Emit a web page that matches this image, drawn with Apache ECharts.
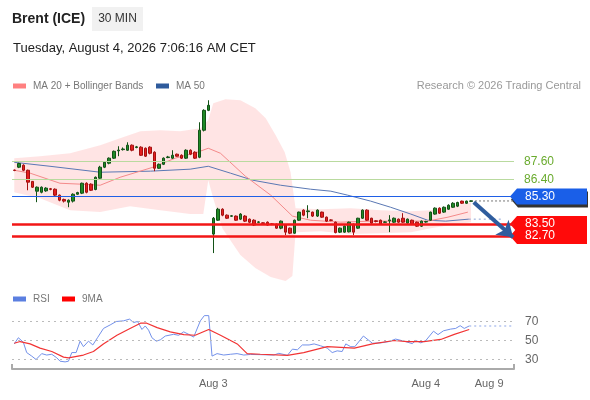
<!DOCTYPE html>
<html lang="en">
<head>
<meta charset="utf-8">
<title>Brent (ICE) 30 MIN</title>
<script src="https://cdn.jsdelivr.net/npm/echarts@6/dist/echarts.min.js"></script>
<style>
    html, body { margin: 0; padding: 0; background: #fff; }
    #main { width: 590px; height: 400px; }
</style>
</head>
<body>
<div id="main"></div>
<script>
// 30 min bars, [open, close, low, high]
var candles = [
    [87.02, 87.00, 86.95, 87.05], [87.21, 87.45, 87.15, 87.50], [87.34, 87.01, 86.95, 87.40],
    [87.01, 86.23, 85.70, 87.05], [86.28, 85.90, 85.85, 86.30], [85.64, 85.90, 84.92, 85.95],
    [85.57, 85.90, 85.50, 85.95], [85.66, 85.84, 85.60, 85.90], [85.80, 85.76, 85.70, 85.85],
    [85.77, 85.38, 85.30, 85.82], [85.38, 85.05, 84.98, 85.42], [85.10, 84.99, 84.90, 85.15],
    [84.92, 85.05, 84.59, 85.10], [84.99, 85.44, 84.90, 85.50], [85.44, 85.55, 85.40, 85.60],
    [85.51, 86.16, 85.45, 86.20], [86.16, 85.57, 85.50, 86.22], [86.10, 85.70, 85.65, 86.15],
    [85.75, 86.55, 85.70, 86.60], [86.49, 87.21, 86.45, 87.30], [87.21, 87.53, 87.15, 87.60],
    [87.47, 87.80, 87.40, 87.85], [87.80, 88.25, 87.75, 88.30], [88.28, 88.33, 87.93, 88.58],
    [88.36, 88.40, 88.30, 88.50], [88.32, 88.65, 88.28, 88.84], [88.65, 88.32, 88.25, 88.70],
    [88.50, 88.54, 88.45, 88.60], [88.52, 87.99, 87.95, 88.58], [88.45, 87.93, 87.88, 88.50],
    [88.52, 88.12, 88.05, 88.58], [88.19, 87.14, 86.95, 88.25], [87.14, 87.40, 87.10, 87.45],
    [87.40, 87.80, 87.35, 87.85], [87.84, 87.88, 87.80, 87.95], [87.80, 87.99, 87.75, 88.32],
    [88.06, 87.93, 87.90, 88.10], [87.99, 87.80, 87.75, 88.05], [87.80, 88.32, 87.75, 88.38],
    [88.32, 88.06, 88.00, 88.38], [88.19, 87.80, 87.75, 88.25], [87.86, 89.63, 87.80, 90.15],
    [89.63, 90.93, 89.55, 91.00], [90.93, 91.26, 90.88, 91.59],
    [82.83, 83.87, 81.59, 83.95], [83.74, 84.46, 83.70, 84.55], [84.46, 84.07, 84.00, 84.52],
    [84.07, 83.87, 83.82, 84.12], [84.00, 84.03, 83.95, 84.08], [84.01, 83.74, 83.70, 84.05],
    [83.81, 84.14, 83.75, 84.20], [84.01, 83.68, 83.62, 84.07], [83.81, 83.61, 83.55, 83.85],
    [83.74, 83.42, 83.36, 83.80], [83.60, 83.63, 83.55, 83.68], [83.57, 83.53, 83.48, 83.60],
    [83.61, 83.42, 83.38, 83.66], [83.50, 83.47, 83.42, 83.55], [83.48, 83.22, 83.18, 83.52],
    [83.22, 83.68, 83.15, 83.72], [83.42, 82.96, 82.76, 83.46], [83.22, 82.89, 82.83, 83.26],
    [82.89, 83.74, 82.85, 83.78], [83.74, 84.27, 83.70, 84.30], [84.40, 84.07, 84.00, 84.45],
    [84.30, 84.35, 83.87, 84.72], [84.27, 84.01, 83.95, 84.30], [84.01, 84.40, 83.95, 84.45],
    [84.27, 83.94, 83.90, 84.30], [83.94, 83.68, 83.62, 83.98], [83.76, 83.73, 83.68, 83.80],
    [83.61, 82.93, 82.88, 83.65], [82.96, 83.22, 82.90, 83.26], [82.96, 83.35, 82.92, 83.40],
    [82.98, 83.61, 82.94, 83.65], [83.48, 82.96, 82.76, 83.52], [83.22, 83.87, 83.18, 83.90],
    [83.87, 84.40, 83.82, 84.45], [84.40, 83.74, 83.70, 84.45], [83.87, 83.55, 83.50, 83.90],
    [83.70, 83.66, 83.60, 83.74], [83.74, 83.48, 83.44, 83.78], [83.60, 83.63, 83.56, 83.68],
    [83.70, 83.76, 82.96, 84.07], [83.61, 83.87, 83.56, 83.92], [83.81, 83.61, 83.56, 83.85],
    [83.87, 83.61, 83.56, 84.20], [83.55, 83.81, 83.50, 83.85], [83.74, 83.48, 83.44, 83.78],
    [83.61, 83.35, 83.30, 83.65], [83.35, 83.68, 83.30, 83.72], [83.62, 83.65, 83.58, 83.70],
    [83.74, 84.27, 83.70, 84.30], [84.14, 84.53, 84.10, 84.58], [84.53, 84.20, 84.15, 84.58],
    [84.27, 84.59, 84.22, 84.64], [84.46, 84.72, 84.42, 84.78], [84.59, 84.85, 84.55, 84.92],
    [84.66, 84.90, 84.60, 84.95], [84.99, 84.85, 84.80, 85.02], [84.85, 84.99, 84.80, 85.02],
    [84.98, 85.00, 84.95, 85.04]
];
var slotCount = 111;   // bars + empty slots to the right
var tickLabels = ['Aug 3', 'Aug 4', 'Aug 9'];
var tickSlots = [44, 91, 105];

// indicator lines, [bar position, value]
var ma20 = [[0, 87.01], [3.5, 86.82], [10.1, 86.16], [14.6, 86.10], [19, 86.03], [23.4, 86.55],
    [30.7, 87.21], [35.6, 87.80], [40.5, 88.19], [42.9, 88.45], [45.6, 88.12], [51.1, 86.62],
    [56.7, 85.38], [61.5, 84.01], [65.5, 83.74], [72.2, 83.61], [78.8, 83.68], [85.5, 83.68],
    [91.4, 83.68], [95.9, 83.94], [100.3, 84.27]];
var bandUpper = [[0, 87.80], [5.7, 87.93], [12.35, 88.12], [19, 88.65], [23.4, 89.10], [27.9, 89.56],
    [32.3, 89.63], [36.7, 89.56], [41.2, 89.76], [42.9, 90.28], [44, 91.39], [46.7, 91.65], [50, 91.59],
    [53.3, 91.06], [55.6, 90.41], [57.8, 89.30], [59.8, 88.19], [61.1, 86.88], [62.2, 84.53],
    [67.7, 84.46], [74.4, 84.53], [81, 84.40], [87.7, 84.33], [92.1, 84.40], [96.5, 84.66], [101, 84.92]];
var bandLower = [[0, 85.57], [5.7, 85.18], [12.35, 84.40], [19, 84.27], [25.6, 84.66], [32.3, 84.40],
    [38.9, 84.14], [41.8, 84.14], [42.9, 86.36], [44, 85.18], [46, 83.22], [50, 81.46], [53.3, 80.61],
    [56.7, 80.02], [60, 79.76], [61.5, 80.09], [62.2, 82.96], [67.7, 83.02], [74.4, 82.83], [81, 82.89],
    [87.7, 82.96], [92.1, 83.22], [96.5, 83.42], [101, 83.61]];
var ma50 = [[0, 87.53], [7.9, 87.27], [19, 86.88], [30.1, 86.95], [38.9, 87.08], [42.9, 87.27],
    [47.8, 86.82], [52.7, 86.36], [58.9, 86.03], [65.5, 85.77], [70, 85.64], [73.7, 85.38],
    [78.8, 84.99], [83.2, 84.59], [87.7, 84.14], [91.4, 83.74], [95.4, 83.68], [100.5, 83.81]];
var ma50Ahead = [[100.5, 83.81], [107.6, 83.81]];
var forecastArrow = [[101.6, 84.92], [110.3, 82.63]];

var resistance = [87.60, 86.40];
var pivot = 85.30;
var support = [83.50, 82.70];

var rsi = [[0, 46.4], [0.9, 52.9], [2.0, 48.2], [2.75, 37.3], [3.86, 33.6], [4.82, 30.0], [6.07, 36.2],
    [7.18, 34.7], [8.29, 35.5], [9.4, 31.8], [10.13, 28.2], [11.24, 27.5], [11.98, 28.2], [12.72, 37.3],
    [13.68, 37.3], [14.56, 49.3], [15.3, 43.5], [16.41, 49.3], [17.37, 45.3], [18.4, 52.9], [19.73, 62.7],
    [21.21, 66.4], [22.54, 70.0], [24.16, 70.7], [25.49, 72.5], [26.38, 68.9], [27.27, 70.0], [28.23, 61.6],
    [28.96, 65.3], [29.7, 60.9], [30.44, 52.9], [31.4, 49.3], [32.29, 50.7], [33.39, 54.7], [35.24, 56.5],
    [36.35, 55.5], [37.46, 59.1], [38.56, 56.5], [39.67, 53.6], [41.15, 70.7], [42.03, 76.2], [43.0, 76.2],
    [43.73, 33.6], [44.84, 36.2], [46.32, 34.7], [47.79, 35.5], [49.27, 36.2], [50.75, 34.7], [52.22, 35.3],
    [54.44, 35.1], [57.4, 34.7], [58.5, 36.5], [60.4, 34.4], [61.5, 40.9], [62.6, 40.2], [63.7, 45.3],
    [65.2, 45.3], [66.3, 46.4], [67.7, 44.5], [69.2, 42.0], [70.3, 37.3], [71.4, 39.1], [72.5, 38.4],
    [73.3, 46.4], [74.4, 43.5], [75.3, 43.5], [77.2, 54.7], [79.2, 47.1], [81.0, 47.5], [82.9, 48.9],
    [84.3, 51.5], [86.2, 49.3], [88.0, 46.7], [88.8, 50.0], [89.9, 47.5], [91.0, 50.0], [92.7, 59.8],
    [93.7, 56.2], [94.9, 60.2], [96.5, 62.0], [97.6, 62.7], [98.6, 65.6], [99.5, 62.7], [100.6, 65.3]];
var rsiMa9 = [[0, 47.1], [1.3, 48.9], [3.5, 46.4], [5.7, 42.0], [8.3, 38.4], [10.9, 32.5], [12, 31.8],
    [15.3, 34.7], [17.5, 38.4], [19.7, 46.4], [22.7, 55.5], [25.6, 62.7], [27.9, 68.2], [29.3, 68.2],
    [31.6, 63.5], [34.5, 59.1], [37.5, 56.2], [40.0, 55.5], [43.0, 61.6], [45.6, 55.5], [49.3, 46.4],
    [51.5, 36.2], [54.4, 35.5], [60.4, 34.4], [64.0, 37.3], [69.2, 43.5], [75.2, 42.0], [79.2, 46.4],
    [84.0, 50.0], [86.9, 48.9], [90.6, 48.9], [94.3, 51.1], [97.3, 56.5], [100.6, 61.6]];
var rsiLevels = [70, 50, 30];

var FONT = '"Liberation Sans", Arial, sans-serif';
var slots = [];
for (var i = 0; i < slotCount; i++) slots.push(i);
var lastBar = candles.length - 1;
var lastClose = candles[lastBar][1];
var lastRsi = rsi[rsi.length - 1];

var myChart = echarts.init(document.getElementById('main'));

function legendItem(x, y, color, label) {
    return [
        { type: 'rect', shape: { x: x, y: y - 2.5, width: 13, height: 5 }, style: { fill: color } },
        { type: 'text', x: x + 20, y: y, style: { text: label, fill: '#777', font: '10px ' + FONT, verticalAlign: 'middle' } }
    ];
}

var headerGraphic = [
    { type: 'text', x: 12, y: 19, style: { text: 'Brent (ICE)', fill: '#222', font: 'bold 14px ' + FONT, verticalAlign: 'middle' } },
    { type: 'rect', shape: { x: 92, y: 7, width: 51, height: 24 }, style: { fill: '#f1f1f1' } },
    { type: 'text', x: 117.5, y: 19, style: { text: '30 MIN', fill: '#333', font: '12px ' + FONT, align: 'center', verticalAlign: 'middle' } },
    { type: 'text', x: 13, y: 48, style: { text: 'Tuesday, August 4, 2026 7:06:16 AM CET', fill: '#222', font: '13px ' + FONT, verticalAlign: 'middle' } },
    { type: 'text', x: 581, y: 86, style: { text: 'Research \u00a9 2026 Trading Central', fill: '#999', font: '11px ' + FONT, align: 'right', verticalAlign: 'middle' } }
].concat(
    legendItem(13, 86, '#ff8080', 'MA 20 + Bollinger Bands'),
    legendItem(156, 86, '#2f5b9c', 'MA 50'),
    legendItem(13, 299, '#5b7fe0', 'RSI'),
    legendItem(62, 299, '#ff0000', '9MA')
);

var option = {
    animation: false,
    backgroundColor: '#fff',
    grid: [
        { left: 12, right: 76, top: 94, height: 191 },
        { left: 12, right: 76, top: 312, height: 57 }
    ],
    xAxis: [
        { type: 'category', gridIndex: 0, data: slots, boundaryGap: true, show: false },
        { type: 'value', gridIndex: 0, min: -0.5, max: slotCount - 0.5, show: false },
        {
            type: 'value', gridIndex: 1, min: -0.5, max: slotCount - 0.5,
            axisLine: { show: true, lineStyle: { color: '#aaa', width: 2 } },
            axisTick: { show: true, inside: true, length: 5, customValues: [-0.5, slotCount - 0.5], lineStyle: { color: '#aaa', width: 2 } },
            axisLabel: {
                customValues: tickSlots, color: '#666', fontSize: 11, fontFamily: FONT, margin: 9,
                formatter: function (v) { return tickLabels[tickSlots.indexOf(Math.round(v))]; }
            },
            splitLine: { show: false }
        }
    ],
    yAxis: [
        { type: 'value', gridIndex: 0, min: 79.5, max: 92, show: false },
        { type: 'value', gridIndex: 1, min: 20, max: 80, show: false }
    ],
    series: [
        {
            // bollinger band fill
            type: 'custom', xAxisIndex: 1, yAxisIndex: 0, clip: false, silent: true,
            data: [[0, 0]], z: 1,
            renderItem: function (params, api) {
                var pts = bandUpper.map(function (p) { return api.coord(p); })
                    .concat(bandLower.slice().reverse().map(function (p) { return api.coord(p); }));
                return { type: 'polygon', shape: { points: pts }, style: { fill: 'rgba(255,130,130,0.22)' } };
            }
        },
        {
            type: 'line', xAxisIndex: 1, yAxisIndex: 0, data: ma50, symbol: 'none', z: 2,
            lineStyle: { color: '#5a78b4', width: 1 }
        },
        {
            type: 'line', xAxisIndex: 1, yAxisIndex: 0, data: ma50Ahead, symbol: 'none', z: 2,
            lineStyle: { color: '#8ea4d4', width: 1, type: [2, 3] }
        },
        {
            type: 'line', xAxisIndex: 1, yAxisIndex: 0, data: ma20, symbol: 'none', z: 2,
            lineStyle: { color: '#f48a8a', width: 1 }
        },
        {
            type: 'line', xAxisIndex: 1, yAxisIndex: 0, symbol: 'none', z: 2,
            data: [[lastBar, lastClose], [slotCount - 0.5, lastClose]],
            lineStyle: { color: '#777', width: 1, type: [2, 2] }
        },
        {
            type: 'candlestick', xAxisIndex: 0, yAxisIndex: 0, data: candles, barWidth: 3, z: 3,
            itemStyle: { color: '#1f8a26', color0: '#e41e1e', borderColor: '#135217', borderColor0: '#a31010', borderWidth: 1 },
            markLine: {
                silent: true, symbol: ['none', 'none'], animation: false,
                data: [
                    { yAxis: resistance[0], lineStyle: { color: '#b9da9f', width: 1, type: 'solid' },
                      label: { show: true, position: 'end', distance: 10, color: '#6aab2e', fontSize: 12, fontFamily: FONT, formatter: resistance[0].toFixed(2) } },
                    { yAxis: resistance[1], lineStyle: { color: '#b9da9f', width: 1, type: 'solid' },
                      label: { show: true, position: 'end', distance: 10, color: '#6aab2e', fontSize: 12, fontFamily: FONT, formatter: resistance[1].toFixed(2) } },
                    { yAxis: pivot, lineStyle: { color: '#1f5fe6', width: 1.2, type: 'solid' }, label: { show: false } },
                    { yAxis: support[0], lineStyle: { color: '#f21616', width: 2.5, type: 'solid' }, label: { show: false } },
                    { yAxis: support[1], lineStyle: { color: '#f21616', width: 2.5, type: 'solid' }, label: { show: false } }
                ]
            }
        },
        {
            type: 'lines', coordinateSystem: 'cartesian2d', xAxisIndex: 1, yAxisIndex: 0, z: 5,
            symbol: ['none', 'arrow'], symbolSize: 15,
            lineStyle: { color: '#2f5d9e', width: 4, opacity: 1 },
            data: [{ coords: forecastArrow }]
        },
        {
            type: 'line', xAxisIndex: 2, yAxisIndex: 1, data: rsi, symbol: 'none',
            lineStyle: { color: '#7391ea', width: 1 },
            markLine: {
                silent: true, symbol: ['none', 'none'], animation: false,
                lineStyle: { color: '#bbb', width: 1, type: [2, 4] },
                label: { position: 'end', distance: 11, color: '#666', fontSize: 12, fontFamily: FONT, formatter: '{c}' },
                data: rsiLevels.map(function (v) { return { yAxis: v }; })
            }
        },
        {
            type: 'line', xAxisIndex: 2, yAxisIndex: 1, symbol: 'none',
            data: [lastRsi, [slotCount - 0.5, lastRsi[1]]],
            lineStyle: { color: '#b4c4f0', width: 1.5, type: [2, 3] }
        },
        {
            type: 'line', xAxisIndex: 2, yAxisIndex: 1, data: rsiMa9, symbol: 'none',
            lineStyle: { color: '#f23434', width: 1.2 }
        }
    ],
    graphic: headerGraphic
};

myChart.setOption(option);

// price tags on the right, placed on the price scale
function tagShape(y) {
    return [[510, y], [517, y - 8], [587, y - 8], [587, y + 8], [517, y + 8]];
}
var yPivot = myChart.convertToPixel({ yAxisIndex: 0 }, pivot);
var tags = [
    { type: 'polygon', shape: { points: tagShape(yPivot + 3).map(function (p) { return [p[0] + 1, p[1]]; }) }, style: { fill: '#333' } },
    { type: 'polygon', shape: { points: tagShape(yPivot) }, style: { fill: '#1a5fe8' } },
    { type: 'text', x: 525, y: yPivot, style: { text: pivot.toFixed(2), fill: '#fff', font: '12px ' + FONT, verticalAlign: 'middle' } }
];
support.forEach(function (v) {
    var y = myChart.convertToPixel({ yAxisIndex: 0 }, v);
    tags.push({ type: 'polygon', shape: { points: tagShape(y) }, style: { fill: '#ff0a0a' } });
});
support.forEach(function (v) {
    var y = myChart.convertToPixel({ yAxisIndex: 0 }, v);
    tags.push({ type: 'text', x: 525, y: y, style: { text: v.toFixed(2), fill: '#fff', font: '12px ' + FONT, verticalAlign: 'middle' } });
});
myChart.setOption({ graphic: headerGraphic.concat(tags) });
</script>
</body>
</html>
